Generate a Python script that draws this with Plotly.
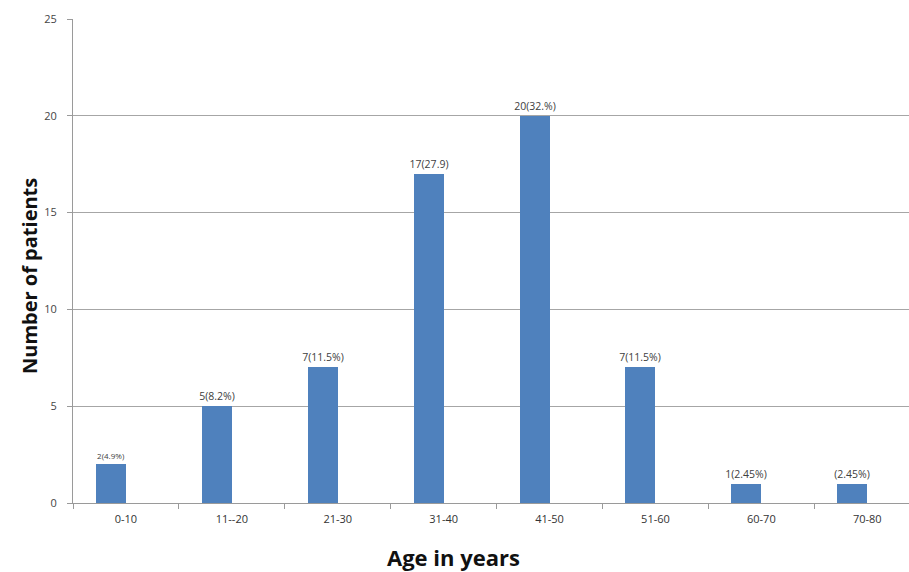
import plotly.graph_objects as go

categories = ["0-10", "11--20", "21-30", "31-40", "41-50", "51-60", "60-70", "70-80"]
patients = [2, 5, 7, 17, 20, 7, 1, 1]
labels = ["2(4.9%)", "5(8.2%)", "7(11.5%)", "17(27.9)", "20(32.%)", "7(11.5%)", "1(2.45%)", "(2.45%)"]
label_sizes = [8, 10.5, 10.5, 10.5, 10.5, 10.5, 10.5, 10.5]
y_ticks = [0, 5, 10, 15, 20, 25]

W, H = 909, 572
L, R, T, B = 73, 0, 19, 69
cat_px = 105.9
span = (W - L - R) / cat_px

fig = go.Figure()
fig.add_trace(go.Bar(
    x=categories, y=patients,
    width=0.283, offset=-0.283,
    marker=dict(color="#4F81BD", line=dict(width=0)),
    text=labels, textposition="outside", constraintext="none",
    textfont=dict(family="Open Sans, Arial", size=label_sizes, color="#404040"),
    cliponaxis=False,
))

fig.update_layout(
    width=W, height=H,
    margin=dict(l=L, r=R, t=T, b=B),
    paper_bgcolor="white", plot_bgcolor="white",
    showlegend=False,
    bargap=0,
    font=dict(family="Open Sans, Arial", color="#404040"),
    xaxis=dict(
        type="category",
        range=[-0.5, -0.5 + span],
        showline=True, linecolor="#9A9A9A", linewidth=1,
        ticks="outside", tickson="boundaries", ticklen=5, tickcolor="#9A9A9A",
        tickfont=dict(size=11, color="#333333"),
        ticklabelstandoff=6,
        showgrid=False,
    ),
    yaxis=dict(
        range=[0, 25], tickvals=y_ticks,
        showline=True, linecolor="#9A9A9A", linewidth=1,
        ticks="outside", ticklen=5, tickcolor="#9A9A9A",
        tickfont=dict(size=11, color="#444444"),
        ticklabelstandoff=8,
        showgrid=True, gridcolor="#A6A6A6", gridwidth=1,
        zeroline=False,
    ),
    annotations=[
        dict(text="<b>Age in years</b>", xref="paper", yref="paper",
             x=(453 - L) / (W - L), y=-(557 - (H - B)) / (H - T - B),
             showarrow=False, font=dict(size=22, color="#111111", family="Open Sans, Arial"),
             xanchor="center", yanchor="middle"),
        dict(text="<b>Number of patients</b>", xref="paper", yref="paper",
             x=-(L - 29) / (W - L), y=((H - B) - 276) / (H - T - B),
             textangle=-90, showarrow=False,
             font=dict(size=20, color="#111111", family="Open Sans, Arial"),
             xanchor="center", yanchor="middle"),
    ],
)

fig.write_html("out.html")
